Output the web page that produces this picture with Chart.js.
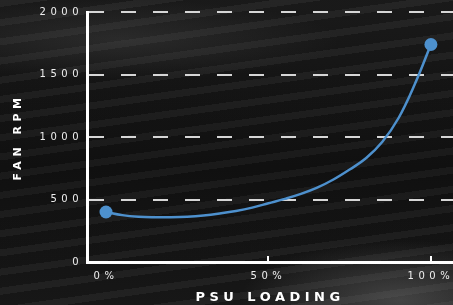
<!DOCTYPE html>
<html>
<head>
<meta charset="utf-8">
<script src="https://cdn.jsdelivr.net/npm/chart.js@4"></script>
<style>
  html, body { margin: 0; padding: 0; overflow: hidden; }
  body {
    width: 453px; height: 305px;
    background:
      radial-gradient(ellipse 160px 60px at 400px 300px, rgba(150,150,150,0.35), transparent),
      radial-gradient(ellipse 220px 40px at 120px 40px, rgba(110,110,110,0.22), transparent),
      repeating-linear-gradient(172deg, rgba(255,255,255,0.035) 0 7px, rgba(0,0,0,0.12) 7px 19px),
      linear-gradient(180deg, #1d1d1d, #121212 55%, #1a1a1a);
  }
  #wrap { position: relative; width: 453px; height: 305px; }
</style>
</head>
<body>
<div id="wrap"><canvas id="fan-chart"></canvas></div>
<script>
(function () {
  'use strict';

  // PSU load (%) vs fan speed (RPM)
  var loading = [0, 5, 10, 15, 20, 25, 30, 35, 40, 45, 50, 55, 60, 65, 70, 75, 80, 85, 90, 95, 100];
  var rpm     = [400, 375, 362, 358, 358, 362, 372, 388, 408, 435, 470, 505, 545, 595, 660, 740, 830, 960, 1150, 1420, 1740];
  var xTicks  = [0, 50, 100];
  var yTicks  = [0, 500, 1000, 1500, 2000];

  var BLUE = '#4d90cd';
  var font = 'DejaVu Sans';

  // extended-looking lettering
  var wideText = {
    id: 'wideText',
    beforeUpdate: function (chart) { chart.ctx.letterSpacing = '4.5px'; },
    beforeDraw:   function (chart) { chart.ctx.letterSpacing = '4.5px'; }
  };

  // short tick marks standing up from the x axis
  var innerTicks = {
    id: 'innerTicks',
    afterDraw: function (chart) {
      var x = chart.scales.x, ctx = chart.ctx, bottom = chart.chartArea.bottom;
      ctx.save();
      ctx.strokeStyle = '#ffffff';
      ctx.lineWidth = 2;
      [50, 100].forEach(function (v) {
        var px = Math.round(x.getPixelForValue(v));
        ctx.beginPath();
        ctx.moveTo(px, bottom);
        ctx.lineTo(px, bottom - 6);
        ctx.stroke();
      });
      ctx.restore();
    }
  };

  var points = loading.map(function (l, i) { return { x: l, y: rpm[i] }; });
  var last = points.length - 1;

  new Chart(document.getElementById('fan-chart'), {
    type: 'line',
    data: {
      datasets: [{
        data: points,
        borderColor: BLUE,
        backgroundColor: BLUE,
        borderWidth: 2.5,
        tension: 0.4,
        pointRadius: function (c) { return (c.dataIndex === 0 || c.dataIndex === last) ? 6.5 : 0; },
        pointHoverRadius: 0,
        pointBorderWidth: 0,
        clip: false
      }]
    },
    options: {
      responsive: true,
      maintainAspectRatio: false,
      animation: false,
      events: [],
      layout: { autoPadding: false, padding: { top: 12, right: 0, bottom: 0, left: 0 } },
      plugins: { legend: { display: false }, tooltip: { enabled: false } },
      scales: {
        x: {
          type: 'linear',
          min: -5.85,
          max: 106.8,
          afterBuildTicks: function (s) { s.ticks = xTicks.map(function (v) { return { value: v }; }); },
          afterFit: function (s) { s.height = 43; s.paddingRight = 0; s.paddingLeft = 0; },
          ticks: {
            color: '#eeeeee',
            font: { family: font, size: 10 },
            padding: 8,
            maxRotation: 0,
            callback: function (v) { return v + '%'; }
          },
          grid: { display: false, drawTicks: false },
          border: { color: '#ffffff', width: 3 },
          title: {
            display: true,
            text: 'PSU LOADING',
            color: '#ffffff',
            font: { family: font, size: 13, weight: 'bold' },
            padding: { top: 0, bottom: 0 }
          }
        },
        y: {
          min: 0,
          max: 2000,
          afterBuildTicks: function (s) { s.ticks = yTicks.map(function (v) { return { value: v }; }); },
          afterFit: function (s) { s.width = 87; },
          ticks: {
            color: '#eeeeee',
            font: { family: font, size: 10 },
            padding: 4,
            callback: function (v) { return String(v); }
          },
          grid: {
            drawTicks: false,
            lineWidth: 2,
            color: function (c) { return c.tick && c.tick.value === 0 ? 'rgba(0,0,0,0)' : '#d6d6d6'; }
          },
          border: { color: '#ffffff', width: 3, dash: [15, 17] },
          title: {
            display: true,
            text: 'FAN RPM',
            color: '#ffffff',
            font: { family: font, size: 11, weight: 'bold' },
            padding: { top: 12, bottom: 0 }
          }
        }
      }
    },
    plugins: [wideText, innerTicks]
  });
})();
</script>
</body>
</html>
